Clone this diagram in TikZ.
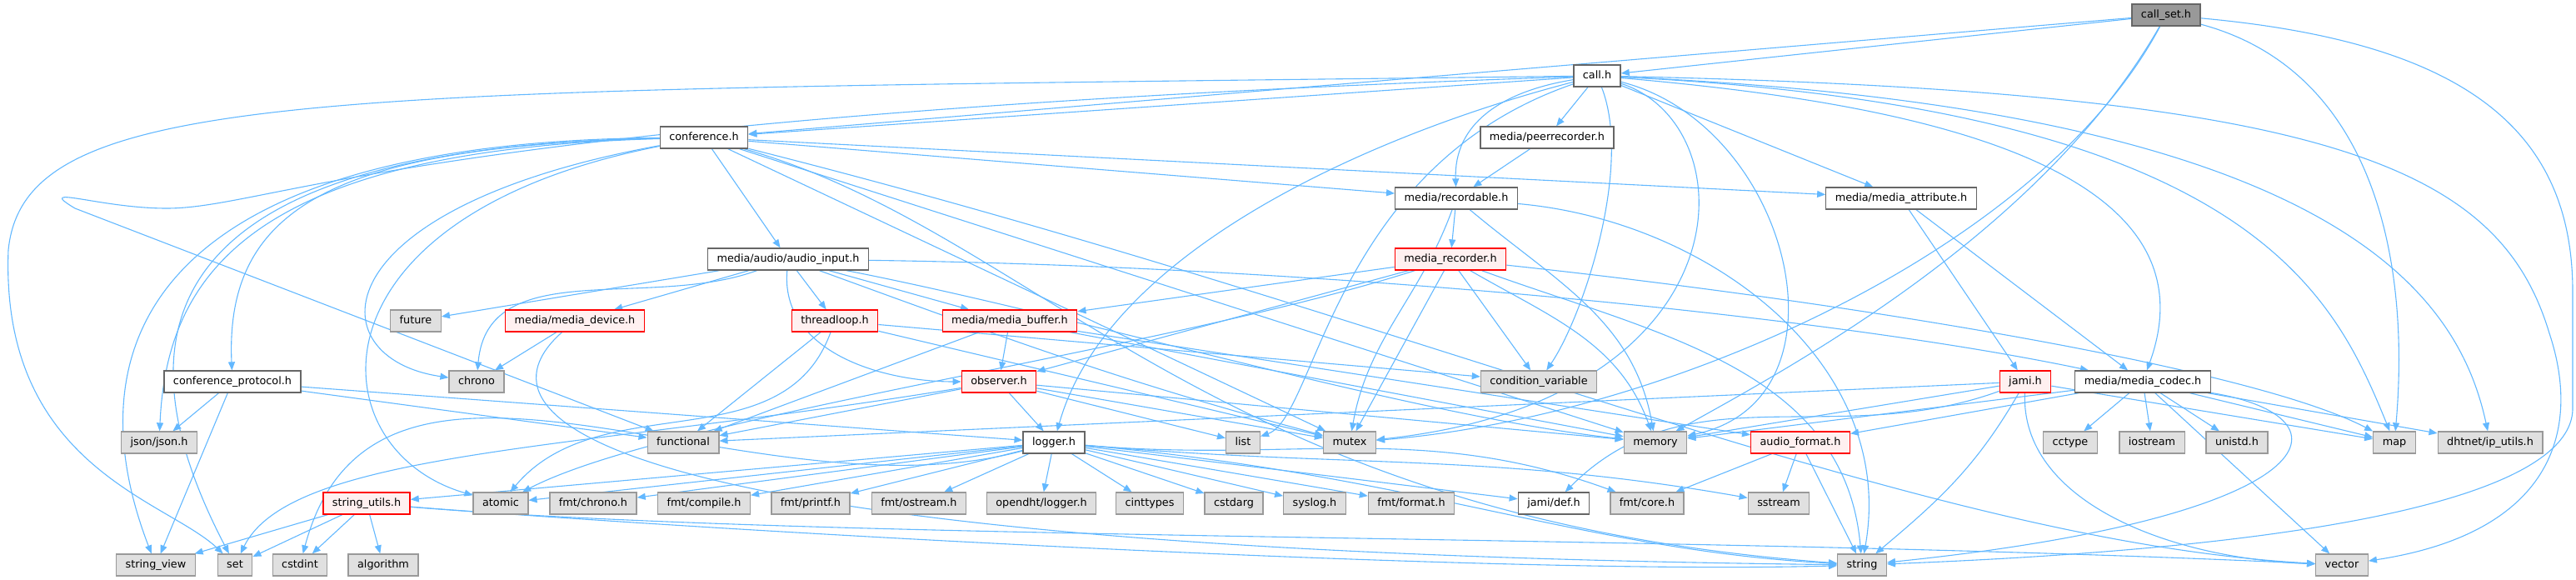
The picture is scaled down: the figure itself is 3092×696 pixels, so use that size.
\documentclass[tikz,border=0pt]{standalone}
\usepackage{fontspec}
\setmainfont{DejaVu Sans}
\usetikzlibrary{arrows.meta,backgrounds}

\definecolor{edgeblue}{HTML}{63B8FF}
\definecolor{sysfill}{HTML}{E0E0E0}
\definecolor{sysline}{HTML}{999999}
\definecolor{projline}{HTML}{666666}
\definecolor{truncfill}{HTML}{FFF0F0}
\definecolor{truncline}{HTML}{FF0000}

\tikzset{
	hdr/.style={rectangle, minimum height=26pt, inner xsep=11pt, inner ysep=0pt, text height=10pt, text depth=3pt, line width=1.3pt, font=\fontsize{12.8}{14}\selectfont},
	sysbox/.style={hdr, draw=sysline, fill=sysfill},
	projbox/.style={hdr, draw=projline, fill=white},
	truncbox/.style={hdr, draw=truncline, fill=truncfill},
	rootbox/.style={hdr, draw=projline, fill=sysline},
	dep/.style={draw=edgeblue, line width=1.1pt, -{Triangle[length=10pt,width=8pt]}},
}

\begin{document}
\begin{tikzpicture}[x=1pt,y=1pt]
	\useasboundingbox (0,0) rectangle (3092,-696);

	\node[rootbox] (callset) at (2600,-18) {call\_set.h};
	\node[projbox] (call) at (1917,-91) {call.h};
	\node[projbox] (conf) at (845,-165) {conference.h};
	\node[projbox] (peerrec) at (1857,-165) {media/peerrecorder.h};
	\node[projbox] (recordable) at (1748,-238) {media/recordable.h};
	\node[projbox] (mattr) at (2282,-238) {media/media\_attribute.h};
	\node[projbox] (ainput) at (946,-311) {media/audio/audio\_input.h};
	\node[truncbox] (mrec) at (1741,-311) {media\_recorder.h};
	\node[sysbox] (future) at (499,-385) {future};
	\node[truncbox] (mdevice) at (690,-385) {media/media\_device.h};
	\node[truncbox] (tloop) at (1002,-385) {threadloop.h};
	\node[truncbox] (mbuffer) at (1212,-385) {media/media\_buffer.h};
	\node[projbox] (cproto) at (279,-458) {conference\_protocol.h};
	\node[sysbox] (chrono) at (572,-458) {chrono};
	\node[truncbox] (observer) at (1199,-458) {observer.h};
	\node[sysbox] (condvar) at (1847,-458) {condition\_variable};
	\node[truncbox] (jami) at (2431,-458) {jami.h};
	\node[projbox] (mcodec) at (2572,-458) {media/media\_codec.h};
	\node[sysbox] (json) at (191,-531) {json/json.h};
	\node[sysbox] (functional) at (820,-531) {functional};
	\node[projbox] (logger) at (1265,-531) {logger.h};
	\node[sysbox] (list) at (1492,-531) {list};
	\node[sysbox] (mutex) at (1620,-531) {mutex};
	\node[sysbox] (memory) at (1987,-531) {memory};
	\node[truncbox] (afmt) at (2161,-531) {audio\_format.h};
	\node[sysbox] (cctype) at (2485,-531) {cctype};
	\node[sysbox] (iostream) at (2583,-531) {iostream};
	\node[sysbox] (unistd) at (2685,-531) {unistd.h};
	\node[sysbox] (map) at (2874,-531) {map};
	\node[sysbox] (iputils) at (2989,-531) {dhtnet/ip\_utils.h};
	\node[truncbox] (sutils) at (440,-604) {string\_utils.h};
	\node[sysbox] (atomic) at (601,-604) {atomic};
	\node[sysbox] (fmtchrono) at (712,-604) {fmt/chrono.h};
	\node[sysbox] (fmtcompile) at (845,-604) {fmt/compile.h};
	\node[sysbox] (fmtprintf) at (973,-604) {fmt/printf.h};
	\node[sysbox] (fmtostream) at (1103,-604) {fmt/ostream.h};
	\node[sysbox] (dhtlogger) at (1250,-604) {opendht/logger.h};
	\node[sysbox] (cinttypes) at (1380,-604) {cinttypes};
	\node[sysbox] (cstdarg) at (1481,-604) {cstdarg};
	\node[sysbox] (syslog) at (1578,-604) {syslog.h};
	\node[sysbox] (fmtformat) at (1694,-604) {fmt/format.h};
	\node[projbox] (jamidef) at (1865,-604) {jami/def.h};
	\node[sysbox] (fmtcore) at (1977,-604) {fmt/core.h};
	\node[sysbox] (sstream) at (2135,-604) {sstream};
	\node[sysbox] (strview) at (187,-678) {string\_view};
	\node[sysbox] (set) at (282,-678) {set};
	\node[sysbox] (cstdint) at (360,-678) {cstdint};
	\node[sysbox] (algorithm) at (460,-678) {algorithm};
	\node[sysbox] (string) at (2235,-678) {string};
	\node[sysbox] (vector) at (2811,-678) {vector};

	\begin{pgfonlayer}{background}
	\foreach \from/\to in {callset/call, callset/conf, call/conf, call/peerrec, call/mattr,
		peerrec/recordable, conf/ainput, conf/recordable, conf/mattr, conf/memory, conf/mutex,
		recordable/mrec, mattr/jami, mattr/mcodec,
		ainput/future, ainput/mdevice, ainput/tloop, ainput/mbuffer,
		mrec/mbuffer, mrec/observer, mrec/mutex, mrec/condvar, mdevice/chrono,
		tloop/functional, tloop/condvar, tloop/mutex,
		mbuffer/observer, mbuffer/functional, mbuffer/memory, mbuffer/afmt,
		cproto/json, cproto/strview, cproto/functional, cproto/logger,
		observer/functional, observer/logger, observer/list, observer/memory, observer/mutex,
		jami/functional, jami/memory, jami/map,
		mcodec/afmt, mcodec/memory, mcodec/cctype, mcodec/iostream, mcodec/unistd, mcodec/map, mcodec/iputils, mcodec/vector,
		logger/sutils, logger/atomic, logger/fmtchrono, logger/fmtcompile, logger/fmtprintf, logger/fmtostream,
		logger/dhtlogger, logger/cinttypes, logger/cstdarg, logger/syslog, logger/fmtformat, logger/jamidef,
		afmt/fmtcore, afmt/sstream, afmt/string,
		sutils/strview, sutils/set, sutils/cstdint, sutils/algorithm}
		\draw[dep] (\from) -- (\to);

	% call_set.h
	\draw[dep] (callset) .. controls (2450,-280) and (2150,-440) .. (memory);
	\draw[dep] (callset) .. controls (2450,-300) and (2000,-500) .. (mutex);
	\draw[dep] (callset) to[out=-15,in=85] (map);
	\draw[dep] (callset) .. controls (2950,-50) and (3088,-150) .. (3088,-350) -- (3088,-490) .. controls (3088,-560) and (2950,-650) .. (string);

	% call.h
	\draw[dep] (call) .. controls (1800,-110) and (1745,-150) .. (recordable);
	\draw[dep] (call) to[out=-5,in=70] (mcodec);
	\draw[dep] (call) .. controls (1650,-160) and (1330,-300) .. (logger);
	\draw[dep] (call) .. controls (1960,-200) and (1900,-380) .. (condvar);
	\draw[dep] (call) .. controls (2150,-150) and (2230,-480) .. (memory);
	\draw[dep] (call) .. controls (2100,-150) and (2100,-480) .. (mutex);
	\draw[dep] (call) .. controls (2700,-130) and (2800,-350) .. (map);
	\draw[dep] (call) .. controls (2800,-130) and (2950,-350) .. (iputils);
	\draw[dep] (call) .. controls (2800,-110) and (3000,-200) .. (3060,-400) .. controls (3100,-520) and (3060,-640) .. (vector);
	\draw[dep] (call) .. controls (1600,-200) and (1580,-500) .. (list);
	\draw[dep] (call) .. controls (400,-110) and (30,-100) .. (10,-300) .. controls (0,-560) and (200,-600) .. (set);
	\draw[dep] (call) .. controls (500,-140) and (330,-250) .. (200,-250) .. controls (120,-250) and (40,-220) .. (90,-250) -- (functional);

	% conference.h
	\draw[dep] (conf) .. controls (400,-175) and (270,-250) .. (cproto);
	\draw[dep] (conf) .. controls (380,-250) and (380,-430) .. (chrono);
	\draw[dep] (conf) .. controls (360,-260) and (380,-540) .. (atomic);
	\draw[dep] (conf) .. controls (250,-175) and (110,-350) .. (set);
	\draw[dep] (conf) .. controls (200,-170) and (80,-400) .. (strview);
	\draw[dep] (conf) .. controls (300,-180) and (200,-330) .. (json);
	\draw[dep] (conf) .. controls (1700,-380) and (2300,-650) .. (vector);
	\draw[dep] (conf) .. controls (1250,-280) and (1450,-620) .. (string);

	% audio_input.h
	\draw[dep] (ainput) to[out=200,in=85] (chrono);
	\draw[dep] (ainput) to[out=265,in=180] (observer);
	\draw[dep] (ainput) to[out=-20,in=165] (mutex);
	\draw[dep] (ainput) .. controls (1300,-380) and (1700,-500) .. (memory);
	\draw[dep] (ainput) .. controls (1600,-320) and (2200,-380) .. (mcodec);

	% media_recorder.h and recordable.h
	\draw[dep] (mrec) .. controls (1400,-420) and (800,-500) .. (atomic);
	\draw[dep] (mrec) to[out=-30,in=110] (memory);
	\draw[dep] (mrec) .. controls (2200,-360) and (2700,-440) .. (map);
	\draw[dep] (mrec) to[out=-20,in=95] (string);
	\draw[dep] (recordable) to[out=250,in=80] (mutex);
	\draw[dep] (recordable) to[out=-40,in=100] (memory);
	\draw[dep] (recordable) to[out=-5,in=80] (string);

	% the rest
	\draw[dep] (mdevice) .. controls (560,-500) and (700,-660) .. (string);
	\draw[dep] (tloop) to[out=250,in=50] (atomic);
	\draw[dep] (observer) .. controls (700,-540) and (350,-540) .. (set);
	\draw[dep] (jami) to[out=200,in=45] (jamidef);
	\draw[dep] (jami) .. controls (2425,-600) and (2600,-670) .. (vector);
	\draw[dep] (jami) to[out=240,in=40] (string);
	\draw[dep] (mcodec) .. controls (2830,-500) and (2800,-620) .. (string);
	\draw[dep] (logger) to[out=-5,in=160] (fmtcore);
	\draw[dep] (logger) to[out=-5,in=170] (sstream);
	\draw[dep] (logger) .. controls (1700,-570) and (1900,-660) .. (string);
	\draw[dep] (logger) to[out=195,in=75] (cstdint);
	\draw[dep] (sutils) .. controls (900,-640) and (1800,-690) .. (string);
	\draw[dep] (sutils) .. controls (1000,-650) and (2000,-640) .. (vector);
	\end{pgfonlayer}
\end{tikzpicture}
\end{document}
